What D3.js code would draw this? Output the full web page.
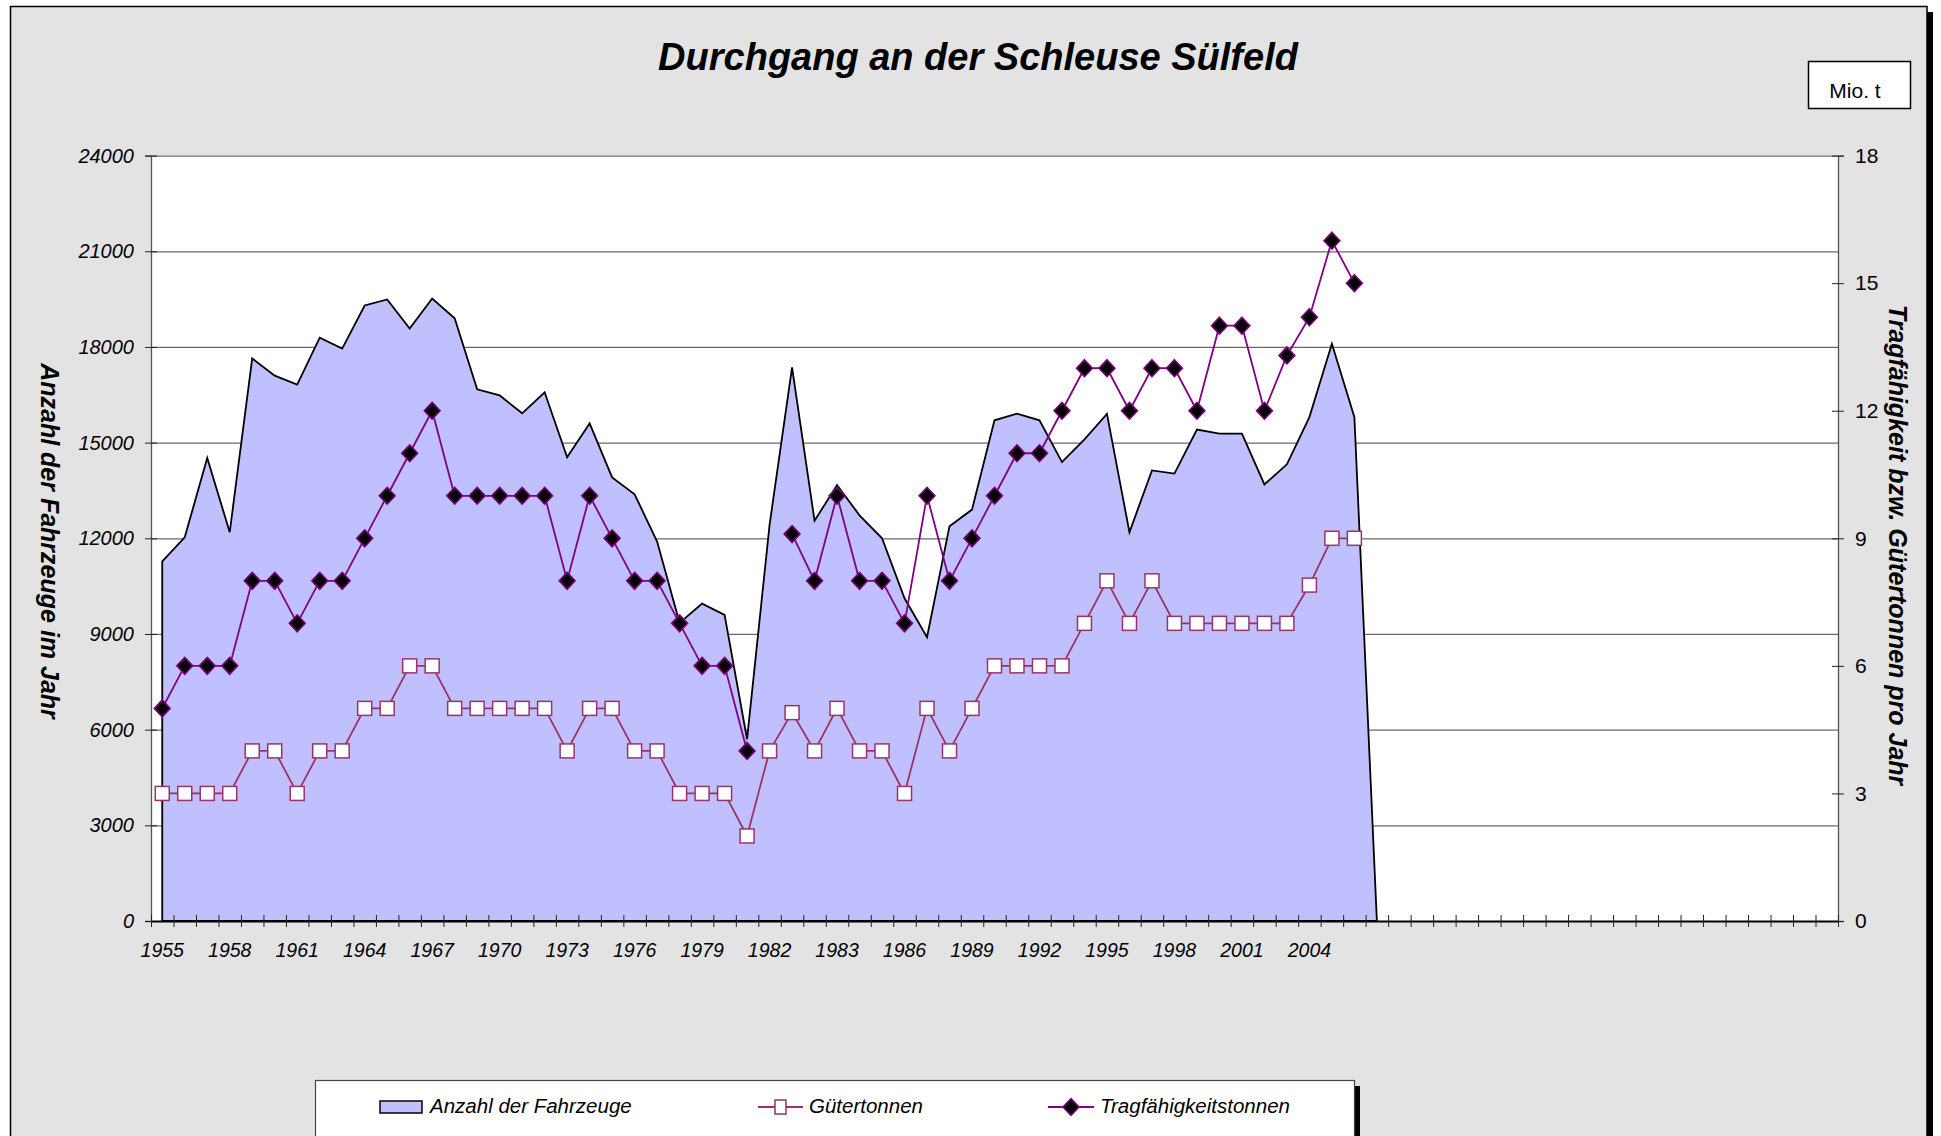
<!DOCTYPE html>
<html>
<head>
<meta charset="utf-8">
<script src="https://cdn.jsdelivr.net/npm/d3@7"></script>
<style>
  body { margin: 0; background: #fff; }
  svg { display: block; font-family: "Liberation Sans", Arial, sans-serif; }
</style>
</head>
<body>
<svg id="chart" width="1941" height="1136"></svg>
<script>
// ---- data ----
const nCategories = 75;   // category slots on the x axis (data fills the first 55)
const tickLabels = ["1955", "1958", "1961", "1964", "1967", "1970", "1973", "1976", "1979",
  "1982", "1983", "1986", "1989", "1992", "1995", "1998", "2001", "2004"];
const labelStep = 3;

// Anzahl der Fahrzeuge (left axis)
const fahrzeuge = [11280, 12030, 14520, 12190, 17640, 17100, 16820, 18290, 17950, 19300,
  19490, 18580, 19520, 18900, 16670, 16480, 15920, 16580, 14540, 15600,
  13910, 13380, 11900, 9350, 9950, 9600, 5700, 12420, 17360, 12550,
  13670, 12720, 12000, 10120, 8900, 12380, 12900, 15700, 15910, 15700,
  14390, 15100, 15900, 12190, 14130, 14030, 15410, 15280, 15280, 13690,
  14320, 15800, 18100, 15800, 0];

// Gütertonnen, Mio. t (right axis)
const gueter = [3, 3, 3, 3, 4, 4, 3, 4, 4, 5,
  5, 6, 6, 5, 5, 5, 5, 5, 4, 5,
  5, 4, 4, 3, 3, 3, 2, 4, 4.9, 4,
  5, 4, 4, 3, 5, 4, 5, 6, 6, 6,
  6, 7, 8, 7, 8, 7, 7, 7, 7, 7,
  7, 7.9, 9, 9];

// Tragfähigkeitstonnen, Mio. t (right axis)
const tragf = [5, 6, 6, 6, 8, 8, 7, 8, 8, 9,
  10, 11, 12, 10, 10, 10, 10, 10, 8, 10,
  9, 8, 8, 7, 6, 6, 4, null, 9.1, 8,
  10, 8, 8, 7, 10, 8, 9, 10, 11, 11,
  12, 13, 13, 12, 13, 13, 12, 14, 14, 12,
  13.3, 14.2, 16, 15];

const leftTicks = [0, 3000, 6000, 9000, 12000, 15000, 18000, 21000, 24000];
const rightTicks = [0, 3, 6, 9, 12, 15, 18];

// ---- layout ----
const W = 1941, H = 1136;
const plot = { left: 151, right: 1838, top: 155.6, bottom: 921 };
const areaFill = "#c0c0ff", gColor = "#993366", tColor = "#800080";
const fontFam = "Liberation Sans, Arial, sans-serif";

const svg = d3.select("#chart");

// chart frame + shadow
svg.append("rect").attr("x", 1927).attr("y", 12).attr("width", 6).attr("height", H)
  .attr("fill", "#000");
svg.append("rect").attr("x", 10.5).attr("y", 6.5).attr("width", 1916.5).attr("height", H + 20)
  .attr("fill", "#e3e3e3").attr("stroke", "#000").attr("stroke-width", 1.5);

// title
svg.append("text")
  .attr("x", 978).attr("y", 70)
  .attr("text-anchor", "middle")
  .attr("font-size", 38).attr("font-weight", "bold").attr("font-style", "italic")
  .text("Durchgang an der Schleuse Sülfeld");

// unit box
svg.append("rect").attr("x", 1808.5).attr("y", 61.5).attr("width", 102).attr("height", 47)
  .attr("fill", "#fff").attr("stroke", "#000").attr("stroke-width", 1.5);
svg.append("text").attr("x", 1855).attr("y", 98).attr("text-anchor", "middle")
  .attr("font-size", 21).text("Mio. t");

// scales
const x = d3.scaleLinear().domain([0, nCategories]).range([plot.left, plot.right]);
const cx = i => x(i + 0.5);
const yL = d3.scaleLinear().domain([0, 24000]).range([plot.bottom, plot.top]);
const yR = d3.scaleLinear().domain([0, 18]).range([plot.bottom, plot.top]);

// plot area
svg.append("rect")
  .attr("x", plot.left).attr("y", plot.top)
  .attr("width", plot.right - plot.left).attr("height", plot.bottom - plot.top)
  .attr("fill", "#fff");

// gridlines
let grid = svg.append("g")
  .attr("transform", "translate(" + plot.left + ",0)")
  .call(d3.axisLeft(yL).tickValues(leftTicks.slice(1)).tickSize(-(plot.right - plot.left)).tickFormat(""));
grid.select(".domain").remove();
grid.selectAll(".tick line").attr("stroke", "#6a6a6a").attr("stroke-width", 1.3);

// area series
const area = d3.area()
  .x((d, i) => cx(i))
  .y0(yL(0))
  .y1(d => yL(d));
svg.append("path")
  .datum(fahrzeuge)
  .attr("d", area)
  .attr("fill", areaFill)
  .attr("stroke", "#000")
  .attr("stroke-width", 1.8)
  .attr("stroke-linejoin", "miter");

// line series
const line = d3.line()
  .defined(d => d != null)
  .x((d, i) => cx(i))
  .y(d => yR(d));

svg.append("path").datum(gueter).attr("d", line)
  .attr("fill", "none").attr("stroke", gColor).attr("stroke-width", 1.8);
svg.append("g").selectAll("rect")
  .data(gueter.map((v, i) => ({ v, i })).filter(d => d.v != null))
  .enter().append("rect")
  .attr("x", d => cx(d.i) - 7).attr("y", d => yR(d.v) - 7)
  .attr("width", 14).attr("height", 14)
  .attr("fill", "#fff").attr("stroke", gColor).attr("stroke-width", 1.5);

const diamond = "M0,-8.5L8,0L0,8.5L-8,0Z";
svg.append("path").datum(tragf).attr("d", line)
  .attr("fill", "none").attr("stroke", tColor).attr("stroke-width", 1.8);
svg.append("g").selectAll("path")
  .data(tragf.map((v, i) => ({ v, i })).filter(d => d.v != null))
  .enter().append("path")
  .attr("d", diamond)
  .attr("transform", d => "translate(" + cx(d.i) + "," + yR(d.v) + ")")
  .attr("fill", "#000").attr("stroke", tColor).attr("stroke-width", 1.5);

// left axis
let axL = svg.append("g")
  .attr("transform", "translate(" + plot.left + ",0)")
  .call(d3.axisLeft(yL).tickValues(leftTicks).tickFormat(d3.format("d")).tickSize(6).tickPadding(11));
axL.select(".domain").attr("stroke", "#555").attr("stroke-width", 1.3);
axL.selectAll(".tick line").attr("x1", 6).attr("x2", -6).attr("stroke", "#222");
axL.selectAll(".tick text").attr("font-size", 20).attr("font-style", "italic")
  .attr("font-family", fontFam).attr("fill", "#000");

// right axis
let axR = svg.append("g")
  .attr("transform", "translate(" + plot.right + ",0)")
  .call(d3.axisRight(yR).tickValues(rightTicks).tickSize(6).tickPadding(11));
axR.select(".domain").attr("stroke", "#555").attr("stroke-width", 1.3);
axR.selectAll(".tick line").attr("x1", -6).attr("x2", 6).attr("stroke", "#222");
axR.selectAll(".tick text").attr("font-size", 21)
  .attr("font-family", fontFam).attr("fill", "#000");

// bottom axis (tick marks at category borders)
let axB = svg.append("g")
  .attr("transform", "translate(0," + plot.bottom + ")")
  .call(d3.axisBottom(x).tickValues(d3.range(0, nCategories + 1)).tickSize(6).tickSizeOuter(0).tickFormat(""));
axB.select(".domain").attr("stroke", "#000").attr("stroke-width", 2.2);
axB.selectAll(".tick line").attr("y1", -6).attr("y2", 6).attr("stroke", "#222");

// category labels, every third slot
svg.append("g").selectAll("text")
  .data(tickLabels)
  .enter().append("text")
  .attr("x", (d, k) => cx(k * labelStep))
  .attr("y", 957)
  .attr("text-anchor", "middle")
  .attr("font-size", 19.5).attr("font-style", "italic")
  .text(d => d);

// axis titles
svg.append("text")
  .attr("transform", "translate(50,541) rotate(90)")
  .attr("text-anchor", "middle").attr("dominant-baseline", "central")
  .attr("font-size", 25).attr("font-weight", "bold").attr("font-style", "italic")
  .text("Anzahl der Fahrzeuge im Jahr");
svg.append("text")
  .attr("transform", "translate(1898,545) rotate(90)")
  .attr("text-anchor", "middle").attr("dominant-baseline", "central")
  .attr("font-size", 25).attr("font-weight", "bold").attr("font-style", "italic")
  .text("Tragfähigkeit bzw. Gütertonnen pro Jahr");

// legend
let lg = svg.append("g");
lg.append("rect").attr("x", 1355).attr("y", 1086).attr("width", 5).attr("height", 80).attr("fill", "#000");
lg.append("rect").attr("x", 315.5).attr("y", 1080.5).attr("width", 1039).attr("height", 100)
  .attr("fill", "#fff").attr("stroke", "#444").attr("stroke-width", 1.2);

lg.append("rect").attr("x", 380).attr("y", 1101).attr("width", 42).attr("height", 12)
  .attr("fill", areaFill).attr("stroke", "#000").attr("stroke-width", 1.5);
lg.append("text").attr("x", 430).attr("y", 1113).attr("font-size", 20.5).attr("font-style", "italic")
  .text("Anzahl der Fahrzeuge");

lg.append("line").attr("x1", 758).attr("x2", 803).attr("y1", 1107).attr("y2", 1107)
  .attr("stroke", gColor).attr("stroke-width", 1.8);
lg.append("rect").attr("x", 775).attr("y", 1100).attr("width", 11).attr("height", 14)
  .attr("fill", "#fff").attr("stroke", gColor).attr("stroke-width", 1.5);
lg.append("text").attr("x", 809).attr("y", 1113).attr("font-size", 20.5).attr("font-style", "italic")
  .text("Gütertonnen");

lg.append("line").attr("x1", 1048).attr("x2", 1094).attr("y1", 1107).attr("y2", 1107)
  .attr("stroke", tColor).attr("stroke-width", 1.8);
lg.append("path").attr("d", diamond).attr("transform", "translate(1071,1107)")
  .attr("fill", "#000").attr("stroke", tColor).attr("stroke-width", 1.5);
lg.append("text").attr("x", 1100).attr("y", 1113).attr("font-size", 20.5).attr("font-style", "italic")
  .text("Tragfähigkeitstonnen");
</script>
</body>
</html>
